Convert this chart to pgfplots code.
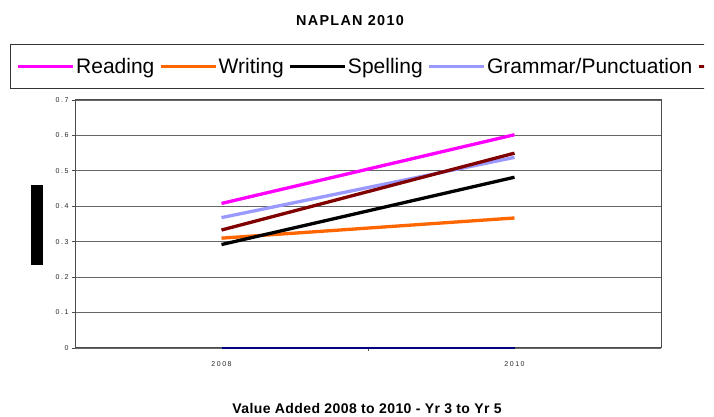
\documentclass[border=0pt]{standalone}
\usepackage{fontspec}
\setmainfont{Liberation Sans}
\newfontfamily\titlefont[LetterSpace=9]{Liberation Sans}
\newfontfamily\bottomfont[LetterSpace=3]{Liberation Sans}
\newfontfamily\tickfont[LetterSpace=22]{Liberation Sans}
\usepackage{pgfplots}
\pgfplotsset{compat=1.18}
\definecolor{cRead}{HTML}{FF00FF}
\definecolor{cWrite}{HTML}{FF6600}
\definecolor{cSpell}{HTML}{000000}
\definecolor{cGram}{HTML}{9999FF}
\definecolor{cNum}{HTML}{800000}
\definecolor{cSix}{HTML}{000080}
\begin{document}
\begin{tikzpicture}[x=1pt,y=1pt]
\useasboundingbox (0,0) rectangle (714,417);
\clip (0,0) rectangle (704,417);
\begin{axis}[
  at={(75pt,69pt)}, anchor=south west,
  scale only axis, width=586pt, height=248pt,
  xmin=-0.5, xmax=1.5, ymin=0, ymax=0.7,
  xtick={0,1}, xticklabels={2008,2010},
  ytick={0,0.1,0.2,0.3,0.4,0.5,0.6,0.7},
  yticklabels={0,0.1,0.2,0.3,0.4,0.5,0.6,0.7},
  ymajorgrids, grid style={black!60, line width=0.8pt},
  axis line style={black!70, line width=1pt},
  tick align=outside, tick pos=left,
  major tick length=3pt,
  tick style={black!70, line width=0.8pt},
  x tick style={draw=none},
  extra x ticks={0.5}, extra x tick labels={},
  extra x tick style={x tick style={draw=black!70, line width=0.8pt}},
  ticklabel style={font=\tickfont\fontsize{7}{8}\selectfont, text=black!85},
  xticklabel style={yshift=-7pt},
  /pgf/number format/assume math mode=true,
  clip=false,
  legend columns=-1,
  legend style={at={(axis description cs:-0.1109,1.2258)}, anchor=north west,
    draw=black!80, line width=0.8pt, font=\fontsize{21}{24}\selectfont,
    inner xsep=6pt, inner ysep=13.5pt,
    nodes={inner xsep=1.5pt, inner ysep=0pt},
    /tikz/every even column/.append style={column sep=3pt}},
  legend image code/.code={\draw[#1] (0pt,0pt) -- (55pt,0pt);},
]
\addplot[cRead, line width=3.3pt] coordinates {(0,0.408) (1,0.602)};
\addlegendentry{Reading}
\addplot[cWrite, line width=3.3pt] coordinates {(0,0.310) (1,0.367)};
\addlegendentry{Writing}
\addplot[cSpell, line width=3.3pt] coordinates {(0,0.292) (1,0.482)};
\addlegendentry{Spelling}
\addplot[cGram, line width=3.3pt] coordinates {(0,0.368) (1,0.538)};
\addlegendentry{Grammar/Punctuation}
\addplot[cNum, line width=3.3pt] coordinates {(0,0.333) (1,0.550)};
\addlegendentry{Numeracy}
\addplot[cSix, line width=2pt] coordinates {(0,0) (1,0)};
\addlegendentry{Overall}
\end{axis}
\node[fill=black, minimum width=12pt, minimum height=80pt, inner sep=0pt] at (37,192) {};
\node[anchor=base, font=\titlefont\bfseries\fontsize{14.4}{16}\selectfont] at (350,391) {NAPLAN 2010};
\node[anchor=base, font=\bottomfont\bfseries\fontsize{14}{16}\selectfont] at (367,3) {Value Added 2008 to 2010 - Yr 3 to Yr 5};
\end{tikzpicture}
\end{document}
